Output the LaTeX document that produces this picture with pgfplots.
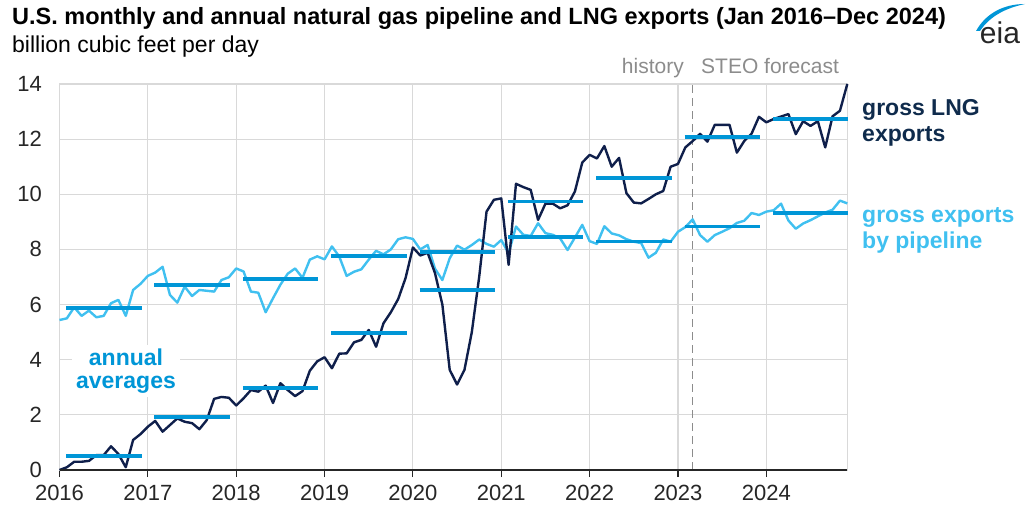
\documentclass[border=0pt]{standalone}
\usepackage{pgfplots}
\pgfplotsset{compat=1.18}
\usepackage{pgfplotstable}
\usepackage{fontspec}
\setmainfont{Liberation Sans}

\definecolor{lngc}{HTML}{0F1F4B}
\definecolor{pipec}{HTML}{40C0F0}
\definecolor{avgc}{HTML}{0096D7}
\definecolor{gridc}{HTML}{D9D9D9}
\definecolor{tickc}{HTML}{262626}
\definecolor{histc}{HTML}{8C8C8C}
\definecolor{lnglab}{HTML}{0F2B4C}

% monthly values, m = months since Jan 2016
\pgfplotstableread{
m lng pipe
0 0.00 5.44
1 0.10 5.50
2 0.30 5.90
3 0.30 5.59
4 0.33 5.78
5 0.54 5.54
6 0.54 5.59
7 0.86 6.05
8 0.58 6.17
9 0.10 5.59
10 1.09 6.53
11 1.30 6.75
12 1.57 7.04
13 1.78 7.16
14 1.39 7.37
15 1.63 6.35
16 1.87 6.07
17 1.75 6.65
18 1.70 6.31
19 1.48 6.53
20 1.81 6.50
21 2.58 6.47
22 2.65 6.89
23 2.62 6.99
24 2.34 7.31
25 2.60 7.20
26 2.90 6.47
27 2.84 6.43
28 3.06 5.72
29 2.43 6.23
30 3.15 6.72
31 2.90 7.12
32 2.68 7.31
33 2.86 6.97
34 3.60 7.63
35 3.94 7.75
36 4.09 7.64
37 3.69 8.11
38 4.22 7.74
39 4.23 7.04
40 4.63 7.19
41 4.72 7.28
42 5.08 7.63
43 4.47 7.95
44 5.32 7.82
45 5.72 8.00
46 6.20 8.37
47 6.96 8.44
48 8.07 8.38
49 7.78 8.00
50 7.88 8.16
51 7.14 7.30
52 6.00 6.89
53 3.63 7.68
54 3.10 8.14
55 3.63 7.99
56 5.00 8.16
57 7.00 8.36
58 9.37 8.20
59 9.80 8.10
60 9.85 8.34
61 7.44 7.86
62 10.38 8.83
63 10.26 8.53
64 10.16 8.49
65 9.07 8.95
66 9.66 8.59
67 9.66 8.53
68 9.49 8.40
69 9.60 7.98
70 10.10 8.43
71 11.15 8.89
72 11.43 8.30
73 11.30 8.20
74 11.75 8.84
75 11.00 8.58
76 11.32 8.51
77 10.04 8.37
78 9.70 8.28
79 9.67 8.23
80 9.83 7.70
81 10.00 7.88
82 10.12 8.36
83 11.00 8.28
84 11.10 8.64
85 11.70 8.81
86 11.93 9.09
87 12.19 8.52
88 11.91 8.28
89 12.52 8.52
90 12.52 8.64
91 12.52 8.77
92 11.51 8.96
93 11.93 9.04
94 12.20 9.32
95 12.81 9.25
96 12.61 9.37
97 12.73 9.42
98 12.82 9.66
99 12.91 9.05
100 12.18 8.75
101 12.65 8.94
102 12.48 9.06
103 12.65 9.20
104 11.70 9.34
105 12.83 9.44
106 13.03 9.77
107 14.00 9.67
}\monthly

% annual averages
\pgfplotstableread{
x lng pipe
0.9 0.52 5.87
11.16 0.52 5.87
11.5 nan nan
12.9 1.93 6.71
23.16 1.93 6.71
23.5 nan nan
24.9 2.96 6.93
35.16 2.96 6.93
35.5 nan nan
36.9 4.98 7.77
47.16 4.98 7.77
47.5 nan nan
48.9 6.53 7.91
59.16 6.53 7.91
59.5 nan nan
60.9 9.74 8.46
71.16 9.74 8.46
71.5 nan nan
72.9 10.60 8.29
83.16 10.60 8.29
83.5 nan nan
84.9 12.07 8.83
95.16 12.07 8.83
95.5 nan nan
96.9 12.73 9.33
107.16 12.73 9.33
}\annual

\begin{document}
\begin{tikzpicture}[x=1pt,y=1pt]
\useasboundingbox (0pt,0pt) rectangle (1032pt,511pt);
\begin{axis}[
    at={(59.5pt,41pt)}, anchor=south west,
    width=787.8pt, height=386pt, scale only axis,
    xmin=0, xmax=107, ymin=0, ymax=14,
    xtick={0,12,24,36,48,60,72,84,96},
    xticklabels={2016,2017,2018,2019,2020,2021,2022,2023,2024},
    ytick={0,2,4,6,8,10,12,14},
    grid=major,
    grid style={gridc, line width=1.1pt},
    axis line style={gridc, line width=1.1pt},
    tick pos=left, tick align=outside,
    major tick length=7pt,
    xtick style={tickc, line width=1.1pt},
    ytick style={draw=none},
    ticklabel style={font=\fontsize{22}{22}\selectfont, text=tickc},
    xticklabel style={yshift=-5pt},
    yticklabel style={xshift=-7pt},
    /pgf/number format/assume math mode=true,
    clip=false,
  ]
  \draw[histc, line width=1.2pt, dash pattern=on 8pt off 5pt] (axis cs:86,0) -- (axis cs:86,14);
  \addplot[pipec, line width=2.4pt, line join=round] table[x=m, y=pipe] {\monthly};
  \addplot[lngc, line width=2.4pt, line join=round] table[x=m, y=lng] {\monthly};
  \addplot[avgc, line width=3.8pt, unbounded coords=jump] table[x=x, y=pipe] {\annual};
  \addplot[avgc, line width=3.8pt, unbounded coords=jump] table[x=x, y=lng] {\annual};
  \draw[tickc, line width=1.3pt] (axis cs:0,0) -- (axis cs:107,0);
\end{axis}

% titles
\node[anchor=base west, inner sep=0] at (12pt,486pt) {\fontsize{23.5}{27}\selectfont\bfseries U.S. monthly and annual natural gas pipeline and LNG exports (Jan 2016–Dec 2024)};
\node[anchor=base west, inner sep=0] at (12pt,458pt) {\fontsize{23}{27}\selectfont billion cubic feet per day};

% eia logo
\node[anchor=base, inner sep=0, text=tickc] at (1000pt,467pt) {\fontsize{30}{30}\selectfont eia};
\fill[avgc] (976pt,480pt) .. controls (986pt,498pt) and (1004pt,507pt) .. (1025pt,507pt)
  .. controls (1006pt,503pt) and (990pt,495pt) .. (980pt,480pt) -- cycle;

% history / forecast
\node[anchor=base east, inner sep=0, text=histc] at (684pt,437pt) {\fontsize{21}{21}\selectfont history};
\node[anchor=base west, inner sep=0, text=histc] at (701pt,437pt) {\fontsize{21}{21}\selectfont STEO forecast};

% series labels
\node[anchor=base west, inner sep=0, text=lnglab] at (862pt,395pt) {\fontsize{23}{23}\selectfont\bfseries gross LNG};
\node[anchor=base west, inner sep=0, text=lnglab] at (862pt,369pt) {\fontsize{23}{23}\selectfont\bfseries exports};
\node[anchor=base west, inner sep=0, text=pipec] at (862pt,288pt) {\fontsize{23}{23}\selectfont\bfseries gross exports};
\node[anchor=base west, inner sep=0, text=pipec] at (862pt,262pt) {\fontsize{23}{23}\selectfont\bfseries by pipeline};

% annual averages label
\node[fill=white, inner sep=4pt, text=avgc, align=center, font=\fontsize{23}{23}\selectfont\bfseries] at (126pt,140pt) {annual\\averages};
\end{tikzpicture}
\end{document}
